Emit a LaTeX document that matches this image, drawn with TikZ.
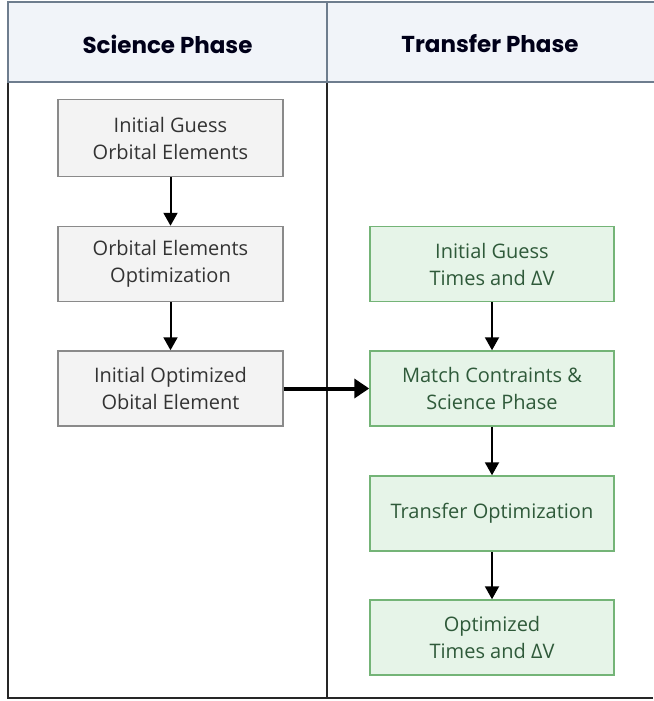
\documentclass[tikz,border=0pt]{standalone}
\usepackage{fontspec}
\setmainfont{Open Sans}
\newfontfamily\hfont{Poppins}
\usetikzlibrary{arrows.meta}
\definecolor{hdrfill}{HTML}{F1F4F9}
\definecolor{hdrline}{HTML}{6E7D8E}
\definecolor{grayfill}{HTML}{F3F3F3}
\definecolor{grayline}{HTML}{8A8A8A}
\definecolor{grayText}{HTML}{333333}
\definecolor{greenfill}{HTML}{E6F4E8}
\definecolor{greenline}{HTML}{74B477}
\definecolor{greenText}{HTML}{2F5A3A}
\begin{document}
\begin{tikzpicture}[x=1pt,y=-1pt,
  graybox/.style={draw=grayline,fill=grayfill,line width=1.5pt,minimum width=225pt,minimum height=77pt,align=center,text=grayText,font=\fontsize{20}{27}\selectfont,inner sep=0pt},
  greenbox/.style={draw=greenline,fill=greenfill,line width=1.5pt,minimum width=244pt,minimum height=75pt,align=center,text=greenText,font=\fontsize{20}{27}\selectfont,inner sep=0pt},
  hdr/.style={font=\hfont\fontsize{23}{27}\selectfont\bfseries,text=black!90!blue},
  arr/.style={line width=2pt,-{Triangle[length=13pt,width=14pt]}},
  bigarr/.style={line width=4pt,-{Triangle[length=15pt,width=19pt]}}]
\useasboundingbox (0,0) rectangle (653,701);
\fill[white] (0,0) rectangle (653,701);
% body
\draw[line width=2pt,black!85] (8,82) -- (8,698) -- (653,698);
\draw[line width=2pt,black!85] (327,82) -- (327,698);
% header
\draw[line width=2pt,hdrline,fill=hdrfill] (8,2) rectangle (660,82);
\draw[line width=2pt,hdrline] (327,2) -- (327,82);
\node[hdr] (h1) at (167.5,44) {Science Phase};
\node[hdr] (h2) at (490,44) {Transfer Phase};
% left boxes
\node[graybox] (a) at (170.5,138) {Initial Guess\\Orbital Elements};
\node[graybox,minimum height=75pt] (b) at (170.5,264) {Orbital Elements\\Optimization};
\node[graybox,minimum height=75pt] (c) at (170.5,388.5) {Initial Optimized\\Obital Element};
% right boxes
\node[greenbox] (d) at (492,264) {Initial Guess\\Times and ΔV};
\node[greenbox] (e) at (492,388.5) {Match Contraints \&\\Science Phase};
\node[greenbox] (f) at (492,513.5) {Transfer Optimization};
\node[greenbox] (g) at (492,637.5) {Optimized\\Times and ΔV};
% arrows
\draw[arr] (a) -- (b);
\draw[arr] (b) -- (c);
\draw[arr] (d) -- (e);
\draw[arr] (e) -- (f);
\draw[arr] (f) -- (g);
\draw[bigarr] (c) -- (e);
\end{tikzpicture}
\end{document}
